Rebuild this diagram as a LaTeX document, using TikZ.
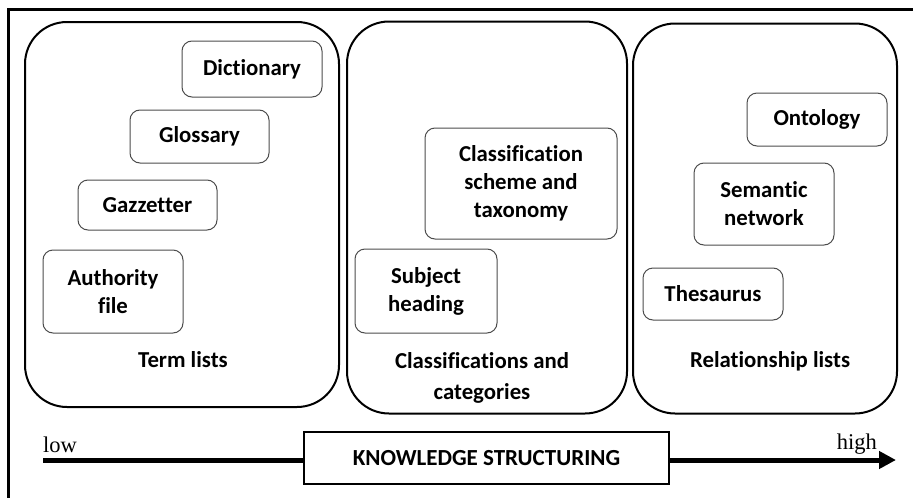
\documentclass[tikz,border=0pt]{standalone}
\usepackage{fontspec}
\setmainfont{Carlito}[Ligatures=NoCommon]
\newfontfamily\scalefont{Liberation Serif}
\usetikzlibrary{arrows.meta}

\begin{document}
\begin{tikzpicture}[x=1pt,y=-1pt,
  panel/.style={draw=black,line width=2pt,rounded corners=42pt,inner sep=0pt},
  item/.style={draw=black!70,line width=1pt,rounded corners=10pt,align=center,
    inner sep=0pt,font=\fontsize{22.8}{28}\selectfont\bfseries},
  grouplabel/.style={align=center,inner sep=0pt,
    font=\fontsize{22.8}{31}\selectfont\bfseries},
  axisbox/.style={draw=black,line width=2pt,inner sep=0pt,
    font=\fontsize{23}{27}\selectfont\bfseries},
  axislabel/.style={inner sep=0pt,font=\fontsize{22.5}{26}\scalefont},
  axis/.style={line width=5pt}]
\useasboundingbox (0,0) rectangle (913,498);

% page frame (top and left edges)
\draw[line width=3pt] (913,9.5) -- (8,9.5) -- (8,498);

% three groups
\node[panel,minimum width=314pt,minimum height=385pt] (p1) at (182,214.5) {};
\node[panel,minimum width=280pt,minimum height=392pt] (p2) at (487,217.5) {};
\node[panel,minimum width=264pt,minimum height=390pt] (p3) at (765,218.5) {};

% term lists
\node[item,minimum width=140pt,minimum height=56pt] (dict) at (252,69) {Dictionary};
\node[item,minimum width=139pt,minimum height=53pt] (gloss) at (199.5,136.5) {Glossary};
\node[item,minimum width=139pt,minimum height=50pt] (gaz) at (147.5,205) {Gazzetter};
\node[item,minimum width=140pt,minimum height=83pt] (auth) at (113,291.5) {Authority\\file};
\node[grouplabel,anchor=base] (l1) at (183,367) {Term lists};

% classifications and categories
\node[item,minimum width=192pt,minimum height=111pt] (cls) at (521,183.5) {Classification\\scheme and\\taxonomy};
\node[item,minimum width=142pt,minimum height=84pt] (subj) at (426,291) {Subject\\heading};
\node[grouplabel] (l2) at (482,378) {Classifications and\\categories};

% relationship lists
\node[item,minimum width=140pt,minimum height=53pt] (onto) at (817,119.5) {Ontology};
\node[item,minimum width=140pt,minimum height=82pt] (sem) at (764,204) {Semantic\\network};
\node[item,minimum width=140pt,minimum height=52pt] (thes) at (713,294) {Thesaurus};
\node[grouplabel,anchor=base] (l3) at (770,367) {Relationship lists};

% knowledge structuring axis
\node[axisbox,minimum width=365pt,minimum height=52pt] (ks) at (486.5,458) {KNOWLEDGE STRUCTURING};
\coordinate (lo) at (43,460);
\coordinate (hi) at (896,460);
\draw[axis] (lo) -- (ks.west |- lo);
\draw[axis,-{Triangle[length=17pt,width=17pt]}] (ks.east |- hi) -- (hi);
\node[axislabel,anchor=base west] (low) at (43,452) {low};
\node[axislabel,anchor=base east] (high) at (877,449) {high};
\end{tikzpicture}
\end{document}
